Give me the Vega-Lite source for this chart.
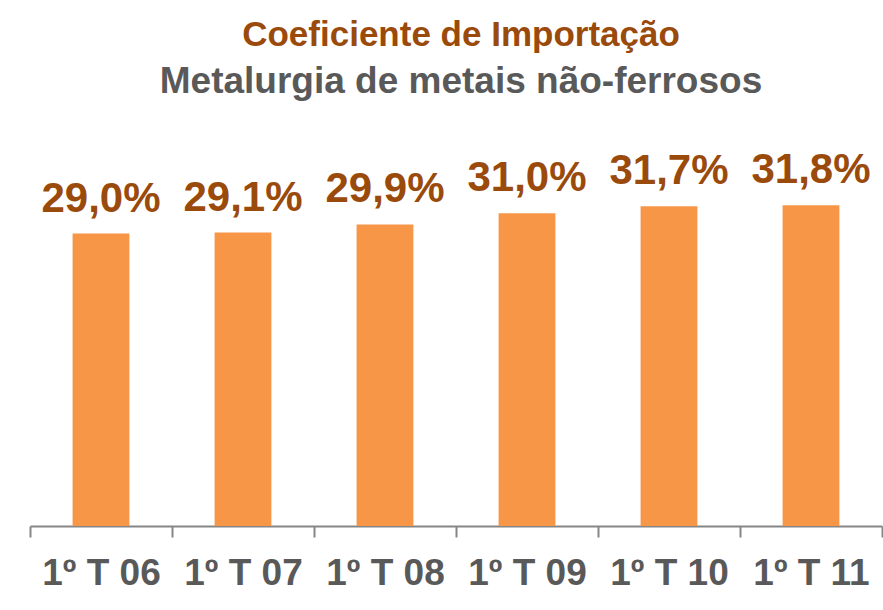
{
  "$schema": "https://vega.github.io/schema/vega-lite/v6.json",
  "width": 852,
  "height": 353,
  "autosize": {"type": "none"},
  "padding": {"top": 173, "left": 30, "right": 1, "bottom": 84},
  "background": "white",
  "config": {
    "view": {"stroke": null},
    "locale": {"number": {"decimal": ",", "thousands": ".", "grouping": [3], "currency": ["R$", ""]}}
  },
  "title": {
    "text": "Coeficiente de Importação",
    "subtitle": "Metalurgia de metais não-ferrosos",
    "anchor": "middle",
    "dx": 5,
    "font": "Liberation Sans",
    "fontSize": 35,
    "fontWeight": "bold",
    "color": "#9A4A0A",
    "subtitleFont": "Liberation Sans",
    "subtitleFontSize": 37,
    "subtitleFontWeight": "bold",
    "subtitleColor": "#595959",
    "subtitlePadding": 11,
    "offset": 49
  },
  "data": {
    "values": [
      {"periodo": "1º T 06", "coef": 0.290},
      {"periodo": "1º T 07", "coef": 0.291},
      {"periodo": "1º T 08", "coef": 0.299},
      {"periodo": "1º T 09", "coef": 0.310},
      {"periodo": "1º T 10", "coef": 0.317},
      {"periodo": "1º T 11", "coef": 0.318}
    ]
  },
  "encoding": {
    "x": {
      "field": "periodo",
      "type": "nominal",
      "sort": null,
      "scale": {"paddingInner": 0, "paddingOuter": 0},
      "axis": {
        "title": null,
        "labelAngle": 0,
        "labelFont": "Liberation Sans",
        "labelFontSize": 37,
        "labelFontWeight": "bold",
        "labelColor": "#595959",
        "labelPadding": 18,
        "domainColor": "#868686",
        "domainWidth": 2,
        "tickColor": "#868686",
        "tickWidth": 2,
        "tickSize": 11,
        "tickBand": "extent",
        "grid": false
      }
    },
    "y": {
      "field": "coef",
      "type": "quantitative",
      "scale": {"domain": [0, 0.35], "nice": false},
      "axis": null
    }
  },
  "layer": [
    {"mark": {"type": "bar", "color": "#F79646", "width": {"band": 0.4}}},
    {
      "mark": {
        "type": "text",
        "font": "Liberation Sans",
        "fontSize": 42,
        "fontWeight": "bold",
        "color": "#9A4A0A",
        "baseline": "alphabetic",
        "dy": -22
      },
      "encoding": {"text": {"field": "coef", "type": "quantitative", "format": ".1%"}}
    }
  ]
}
